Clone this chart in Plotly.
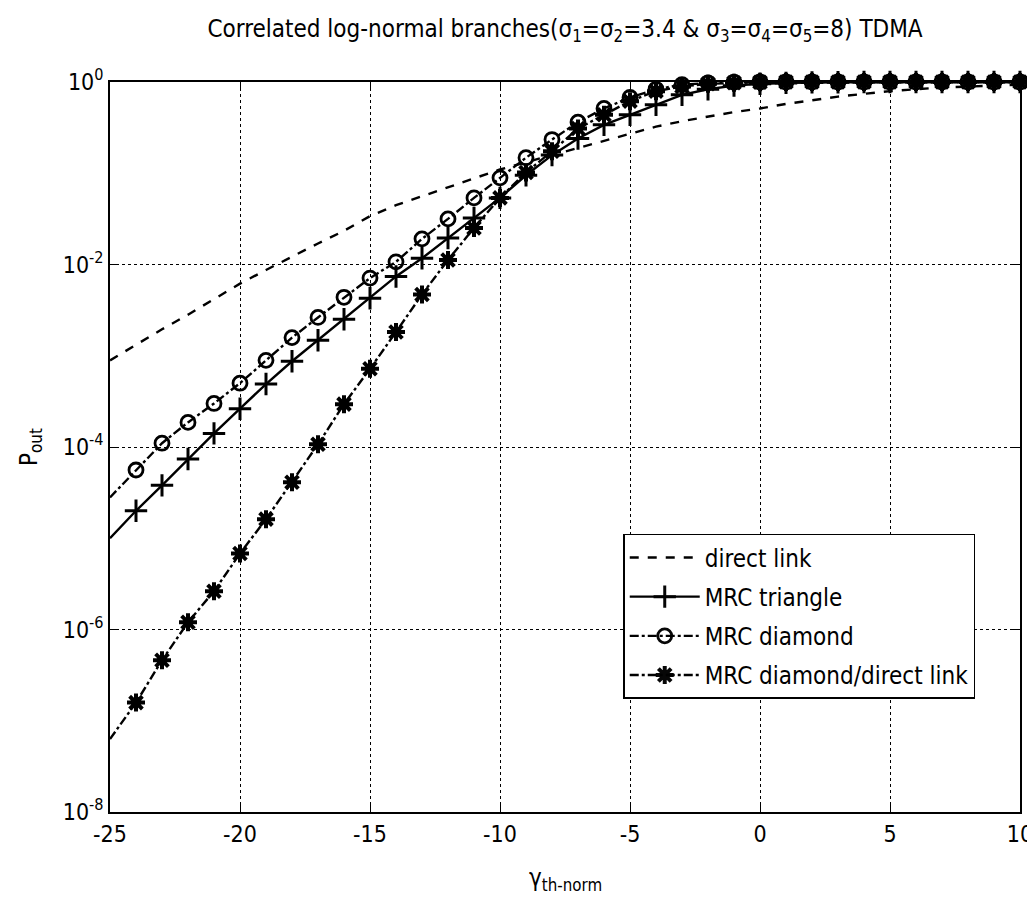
import plotly.graph_objects as go

# threshold (dB), every integer from -25 to 10
gamma = list(range(-25, 11))

direct_link = [8.9e-4, 1.32e-3, 1.95e-3, 2.82e-3, 4.17e-3, 6.17e-3, 8.71e-3, 1.23e-2,
               1.70e-2, 2.34e-2, 3.39e-2, 4.47e-2, 5.62e-2, 7.08e-2, 8.91e-2, 0.110,
               0.132, 0.158, 0.191, 0.229, 0.275, 0.324, 0.372, 0.417, 0.468, 0.513,
               0.575, 0.631, 0.692, 0.741, 0.794, 0.832, 0.871, 0.891, 0.912, 0.933]

mrc_triangle = [1.0e-5, 2.0e-5, 3.8e-5, 7.4e-5, 1.41e-4, 2.63e-4, 4.9e-4, 8.7e-4,
                1.48e-3, 2.51e-3, 4.27e-3, 7.4e-3, 1.17e-2, 1.95e-2, 3.24e-2, 5.37e-2,
                9.5e-2, 0.158, 0.240, 0.339, 0.437, 0.562, 0.724, 0.832, 0.912, 0.955,
                0.977, 0.99, 0.995, 1.0, 1.0, 1.0, 1.0, 1.0, 1.0, 1.0]

mrc_diamond = [2.8e-5, 5.6e-5, 1.10e-4, 1.86e-4, 3.0e-4, 5.0e-4, 8.9e-4, 1.58e-3,
               2.63e-3, 4.37e-3, 7.1e-3, 1.07e-2, 1.91e-2, 3.16e-2, 5.37e-2, 8.9e-2,
               0.148, 0.234, 0.363, 0.513, 0.676, 0.832, 0.933, 0.977, 0.995, 1.0,
               1.0, 1.0, 1.0, 1.0, 1.0, 1.0, 1.0, 1.0, 1.0, 1.0]

mrc_diamond_direct = [6.3e-8, 1.58e-7, 4.6e-7, 1.20e-6, 2.63e-6, 6.8e-6, 1.62e-5, 4.1e-5,
                      1.07e-4, 2.95e-4, 7.2e-4, 1.82e-3, 4.7e-3, 1.12e-2, 2.51e-2, 5.37e-2,
                      0.102, 0.174, 0.309, 0.437, 0.617, 0.794, 0.891, 0.955, 0.98, 0.995,
                      1.0, 1.0, 1.0, 1.0, 1.0, 1.0, 1.0, 1.0, 1.0, 1.0]

x_tickvals = [-25, -20, -15, -10, -5, 0, 5, 10]
x_ticktext = ["-25", "-20", "-15", "-10", "-5", "0", "5", "10"]
y_tickvals = [1e-8, 1e-6, 1e-4, 1e-2, 1]
y_ticktext = ["10<sup>-8</sup>", "10<sup>-6</sup>", "10<sup>-4</sup>", "10<sup>-2</sup>", "10<sup>0</sup>"]

FONT = "Liberation Sans Narrow, DejaVu Sans Condensed, Arial Narrow, sans-serif"

# no marker on the first point (x=-25), like the original
mark_opacity = [0] + [1] * (len(gamma) - 1)

fig = go.Figure()

fig.add_trace(go.Scatter(x=gamma, y=direct_link, name="direct link", mode="lines",
                         legendgroup="a",
                         line=dict(color="black", width=2.4, dash="dash")))

fig.add_trace(go.Scatter(x=gamma, y=mrc_triangle, name="MRC triangle", mode="lines+markers",
                         legendgroup="b",
                         line=dict(color="black", width=2.4),
                         marker=dict(symbol="cross-thin", size=16, opacity=mark_opacity,
                                     line=dict(color="black", width=3)),
                         cliponaxis=False))

fig.add_trace(go.Scatter(x=gamma, y=mrc_diamond, name="MRC diamond", mode="lines+markers",
                         legendgroup="c",
                         line=dict(color="black", width=2.4, dash="dashdot"),
                         marker=dict(symbol="circle-open", size=14, opacity=mark_opacity,
                                     color="black", line=dict(color="black", width=2.8)),
                         cliponaxis=False))

fig.add_trace(go.Scatter(x=gamma, y=mrc_diamond_direct, name="MRC diamond/direct link",
                         mode="lines+markers", legendgroup="d",
                         line=dict(color="black", width=2.4, dash="dashdot"),
                         marker=dict(symbol="asterisk-open", size=15, opacity=mark_opacity,
                                     color="black", line=dict(color="black", width=4)),
                         cliponaxis=False))

# page body adds an 8px margin, so the figure is sized/offset to compensate
W, H = 1027, 903
fig.update_layout(
    width=W, height=H,
    margin=dict(l=102, r=15, t=74, b=99, autoexpand=False),
    paper_bgcolor="white", plot_bgcolor="white",
    font=dict(family=FONT, size=23, color="black"),
    title=dict(text="Correlated log-normal branches(σ<sub>1</sub>=σ<sub>2</sub>=3.4 &amp; "
                    "σ<sub>3</sub>=σ<sub>4</sub>=σ<sub>5</sub>=8) TDMA",
               x=0.5, xref="paper", xanchor="center",
               y=1 - 21 / H, yref="container", yanchor="middle",
               font=dict(size=24)),
    legend=dict(x=0.564, y=0.381, xanchor="left", yanchor="top",
                bgcolor="white", bordercolor="black", borderwidth=1.5,
                font=dict(size=24), itemwidth=70, tracegroupgap=5),
    showlegend=True,
)

fig.update_xaxes(range=[-25, 10], tickvals=x_tickvals, ticktext=x_ticktext,
                 automargin=False,
                 ticks="inside", ticklen=8, tickwidth=1.2, tickcolor="black",
                 showline=True, linecolor="black", linewidth=1.8, mirror="ticks",
                 showgrid=True, gridcolor="black", gridwidth=1, griddash="dot",
                 zeroline=False)

fig.update_yaxes(type="log", range=[-8, 0], tickvals=y_tickvals, ticktext=y_ticktext,
                 automargin=False,
                 ticks="inside", ticklen=8, tickwidth=1.2, tickcolor="black",
                 showline=True, linecolor="black", linewidth=1.8, mirror="ticks",
                 showgrid=True, gridcolor="black", gridwidth=1, griddash="dot",
                 zeroline=False)

fig.add_annotation(text="P<sub>out</sub>", xref="paper", yref="paper", x=-0.088, y=0.5,
                   xanchor="center", yanchor="middle",
                   textangle=-90, showarrow=False, font=dict(size=24))
fig.add_annotation(text="γ<sub>th-norm</sub>", xref="paper", yref="paper", x=0.5, y=-0.093,
                   xanchor="center", yanchor="middle", showarrow=False, font=dict(size=24))

fig.write_html("out.html")
